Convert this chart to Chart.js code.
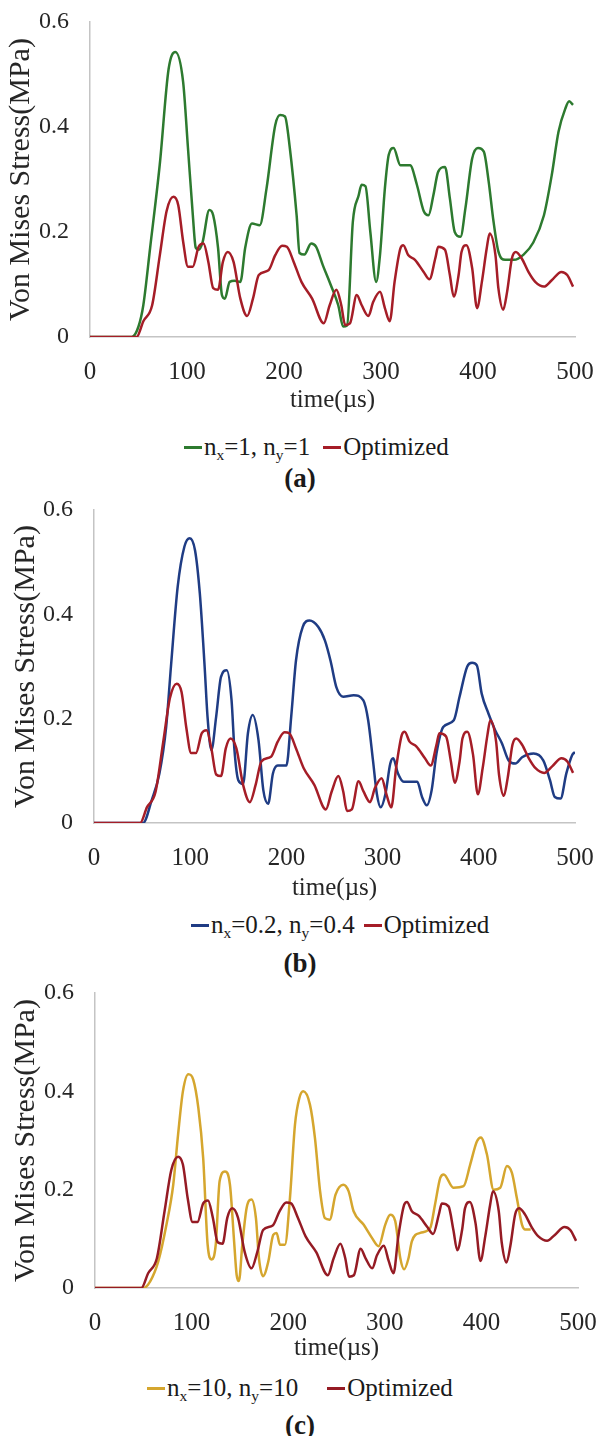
<!DOCTYPE html>
<html>
<head>
<meta charset="utf-8">
<title>Von Mises Stress</title>
<script src="https://cdn.jsdelivr.net/npm/chart.js"></script>
<style>
  body { margin: 0; background: #fff; font-family: "Liberation Serif", "Times New Roman", serif; color: #1a1a1a; }
  #page { position: relative; width: 600px; height: 1436px; overflow: hidden; }
  .panel { position: absolute; left: 0; }
  .legend { position: absolute; display: flex; align-items: center; height: 26px; font-size: 25px; white-space: nowrap; }
  .legend .item { display: flex; align-items: center; }
  .legend .swatch { display: inline-block; width: 18px; height: 3px; margin-right: 2px; }
  .legend sub { font-size: 0.62em; vertical-align: -0.3em; line-height: 0; }
  .caption { position: absolute; left: 0; width: 600px; text-align: center; font-weight: bold; font-size: 27px; line-height: 28px; }
</style>
</head>
<body>
<div id="page">
  <div class="panel" style="top:0px"><canvas id="chartA" width="600" height="420"></canvas></div>
  <div class="legend" id="legendA" style="left:184px; top:434px"></div>
  <div class="caption" style="top:464px">(a)</div>

  <div class="panel" style="top:490px"><canvas id="chartB" width="600" height="418"></canvas></div>
  <div class="legend" id="legendB" style="left:191px; top:912px"></div>
  <div class="caption" style="top:949px">(b)</div>

  <div class="panel" style="top:970px"><canvas id="chartC" width="600" height="397"></canvas></div>
  <div class="legend" id="legendC" style="left:147px; top:1375px"></div>
  <div class="caption" style="top:1411px">(c)</div>
</div>

<script>
  // time (µs) and stress (MPa)
  const optT = [0, 48, 55, 64, 72, 79, 86, 91, 96, 101, 106, 112, 117, 122, 127, 132, 137, 142, 148, 155, 162, 168, 174, 184, 191, 198, 203, 210, 218, 229, 241, 247, 254, 259, 263, 268, 275, 280, 287, 292, 299, 304, 309, 314, 320, 323, 328, 335, 344, 350, 356, 359, 366, 371, 375, 380, 383, 388, 394, 399, 404, 409, 412, 418, 421, 426, 430, 435, 439, 445, 452, 459, 468, 476, 486, 492, 498];
  const optV = [0, 0, 0.03, 0.06, 0.156, 0.24, 0.267, 0.251, 0.182, 0.134, 0.134, 0.172, 0.178, 0.143, 0.093, 0.09, 0.143, 0.162, 0.143, 0.073, 0.04, 0.073, 0.118, 0.127, 0.156, 0.174, 0.172, 0.143, 0.105, 0.073, 0.026, 0.06, 0.09, 0.061, 0.023, 0.026, 0.08, 0.061, 0.04, 0.067, 0.086, 0.055, 0.03, 0.105, 0.169, 0.175, 0.156, 0.147, 0.124, 0.11, 0.15, 0.172, 0.166, 0.118, 0.077, 0.118, 0.162, 0.175, 0.131, 0.055, 0.105, 0.169, 0.197, 0.156, 0.093, 0.052, 0.086, 0.15, 0.162, 0.15, 0.124, 0.105, 0.096, 0.108, 0.124, 0.118, 0.096];

  const greenT = [0, 43, 50, 55, 62, 72, 81, 88, 96, 101, 106, 109, 112, 116, 123, 127, 132, 136, 139, 144, 149, 155, 160, 167, 175, 182, 191, 196, 201, 206, 213, 216, 221, 228, 233, 240, 248, 256, 261, 265, 271, 277, 280, 284, 289, 295, 299, 304, 308, 313, 320, 330, 337, 344, 349, 354, 359, 366, 371, 376, 382, 387, 394, 400, 406, 411, 416, 421, 428, 437, 447, 457, 468, 476, 483, 490, 494, 498];
  const greenV = [0, 0, 0.02, 0.061, 0.17, 0.33, 0.51, 0.543, 0.486, 0.36, 0.232, 0.17, 0.166, 0.18, 0.242, 0.232, 0.17, 0.08, 0.073, 0.105, 0.107, 0.105, 0.17, 0.216, 0.213, 0.283, 0.404, 0.423, 0.42, 0.36, 0.232, 0.16, 0.157, 0.178, 0.172, 0.137, 0.1, 0.06, 0.02, 0.022, 0.22, 0.27, 0.29, 0.287, 0.2, 0.105, 0.157, 0.283, 0.347, 0.36, 0.327, 0.327, 0.29, 0.24, 0.232, 0.27, 0.315, 0.324, 0.264, 0.2, 0.191, 0.245, 0.34, 0.36, 0.353, 0.296, 0.22, 0.163, 0.147, 0.147, 0.157, 0.18, 0.232, 0.308, 0.391, 0.435, 0.449, 0.442];

  const blueT = [0, 51, 60, 68, 75, 80, 87, 94, 99.5, 105, 110, 115, 118, 122, 127, 132, 138, 143, 146, 150, 155, 160, 165, 171, 176, 181, 186, 191, 200, 205, 210, 217, 224, 233, 240, 246, 252, 259, 270, 280, 285, 290, 294, 298, 303, 308, 311, 316, 322, 336, 341, 346, 351, 356, 363, 374, 380, 388, 393, 398, 403, 410, 417, 424, 431, 438, 445, 457, 467, 474, 479, 485, 491, 497, 500];
  const blueV = [0, 0, 0.044, 0.095, 0.184, 0.30, 0.453, 0.53, 0.546, 0.523, 0.44, 0.30, 0.204, 0.14, 0.204, 0.28, 0.293, 0.235, 0.14, 0.082, 0.075, 0.172, 0.207, 0.159, 0.063, 0.037, 0.095, 0.11, 0.11, 0.204, 0.312, 0.376, 0.388, 0.376, 0.35, 0.31, 0.26, 0.242, 0.245, 0.235, 0.197, 0.12, 0.056, 0.03, 0.056, 0.114, 0.124, 0.095, 0.079, 0.079, 0.05, 0.034, 0.063, 0.133, 0.184, 0.197, 0.242, 0.30, 0.307, 0.302, 0.248, 0.21, 0.178, 0.153, 0.12, 0.114, 0.126, 0.133, 0.12, 0.082, 0.05, 0.047, 0.095, 0.13, 0.136];

  const goldT = [0, 50, 57, 65.5, 74, 81, 86, 91, 96.6, 101.7, 107, 112, 116.6, 120.7, 125, 129, 134.5, 139.7, 144, 146.6, 149, 152.5, 157, 162, 166.6, 169.7, 174, 179.4, 184.5, 188, 191.4, 196.6, 201.8, 207, 211.5, 215.6, 222.5, 227.7, 233, 238, 243, 249, 257, 262.5, 267.7, 278, 286.7, 293.6, 300.5, 305.6, 310.8, 316, 320, 324.6, 328, 336.7, 347, 352, 357.4, 361, 371, 381.5, 388.4, 395.3, 399.5, 405.7, 412.6, 419.5, 426.4, 431.6, 436.7, 442, 445.4, 451];
  const goldV = [0, 0, 0.013, 0.054, 0.129, 0.21, 0.312, 0.4, 0.435, 0.424, 0.366, 0.264, 0.088, 0.058, 0.088, 0.217, 0.237, 0.21, 0.095, 0.027, 0.014, 0.088, 0.163, 0.18, 0.142, 0.061, 0.024, 0.054, 0.108, 0.112, 0.088, 0.088, 0.183, 0.332, 0.386, 0.4, 0.373, 0.305, 0.197, 0.142, 0.139, 0.19, 0.21, 0.197, 0.156, 0.129, 0.102, 0.085, 0.129, 0.149, 0.136, 0.061, 0.038, 0.061, 0.095, 0.112, 0.122, 0.17, 0.224, 0.231, 0.204, 0.207, 0.251, 0.298, 0.306, 0.272, 0.2, 0.204, 0.248, 0.234, 0.183, 0.129, 0.119, 0.119];

  const xTicks = { min: 0, max: 500, step: 100 };
  const yTicks = { min: 0, max: 0.6, step: 0.2 };
  const xTitle = 'time(µs)';
  const yTitle = 'Von Mises Stress(MPa)';

  const optLabel = 'Optimized';
  const caseLabels = ['n<sub>x</sub>=1, n<sub>y</sub>=1', 'n<sub>x</sub>=0.2, n<sub>y</sub>=0.4', 'n<sub>x</sub>=10, n<sub>y</sub>=10'];

  const RED = '#a51d27';
  const serif = "'Liberation Serif', 'Times New Roman', serif";

  function series(t, v, color, label, order) {
    return {
      label: label,
      data: t.map((x, i) => ({ x: x, y: v[i] })),
      borderColor: color,
      borderWidth: 2.5,
      pointRadius: 0,
      fill: false,
      cubicInterpolationMode: 'monotone',
      order: order
    };
  }

  function makeChart(id, datasets, g) {
    return new Chart(document.getElementById(id), {
      type: 'line',
      data: { datasets: datasets },
      options: {
        responsive: false,
        animation: false,
        layout: { padding: { top: g.top, right: g.right, left: 0, bottom: 0 } },
        plugins: { legend: { display: false }, tooltip: { enabled: false } },
        scales: {
          x: {
            type: 'linear', min: xTicks.min, max: xTicks.max,
            ticks: { stepSize: xTicks.step, padding: 20, maxRotation: 0, color: '#262626', font: { family: serif, size: 25 } },
            grid: { color: 'rgba(0,0,0,0)', drawTicks: false },
            border: { color: '#c4c4c4', width: 1.5 },
            title: { display: true, text: xTitle, color: '#262626', font: { family: serif, size: 25 }, padding: { top: 0, bottom: g.xTitlePad } },
            // fixed box: the label overflow is already covered by layout padding
            afterFit: s => { s.height = g.xHeight; s.paddingLeft = 0; s.paddingRight = 0; }
          },
          y: {
            type: 'linear', min: yTicks.min, max: yTicks.max,
            ticks: { stepSize: yTicks.step, padding: 21, color: '#262626', font: { family: serif, size: 24 } },
            grid: { color: 'rgba(0,0,0,0)', drawTicks: false },
            border: { color: '#c4c4c4', width: 1.5 },
            title: { display: true, text: yTitle, color: '#262626', font: { family: serif, size: 30 }, padding: { top: g.yTitlePad, bottom: 0 } },
            afterFit: s => { s.width = g.yWidth; s.paddingTop = 0; s.paddingBottom = 0; }
          }
        }
      }
    });
  }

  function makeLegend(id, items, gap) {
    const el = document.getElementById(id);
    items.forEach((it, i) => {
      const d = document.createElement('span');
      d.className = 'item';
      if (i > 0) d.style.marginLeft = gap + 'px';
      d.innerHTML = '<span class="swatch" style="background:' + it.color + '"></span><span>' + it.html + '</span>';
      el.appendChild(d);
    });
  }

  makeChart('chartA', [
    series(greenT, greenV, '#2d7a2f', 'nx=1, ny=1', 1),
    series(optT, optV, RED, optLabel, 0)
  ], { top: 22, right: 25, yWidth: 90, xHeight: 83, xTitlePad: 5, yTitlePad: 3 });

  makeChart('chartB', [
    series(blueT, blueV, '#1f3c84', 'nx=0.2, ny=0.4', 1),
    series(optT, optV, RED, optLabel, 0)
  ], { top: 20, right: 25, yWidth: 94, xHeight: 85, xTitlePad: 5, yTitlePad: 8 });

  makeChart('chartC', [
    series(goldT, goldV, '#d5a62e', 'nx=10, ny=10', 1),
    series(optT, optV, '#951b24', optLabel, 0)
  ], { top: 23, right: 22, yWidth: 95, xHeight: 79, xTitlePad: 4, yTitlePad: 8 });

  makeLegend('legendA', [{ color: '#2d7a2f', html: caseLabels[0] }, { color: RED, html: optLabel }], 13);
  makeLegend('legendB', [{ color: '#1f3c84', html: caseLabels[1] }, { color: RED, html: optLabel }], 9);
  makeLegend('legendC', [{ color: '#d5a62e', html: caseLabels[2] }, { color: '#951b24', html: optLabel }], 29);
</script>
</body>
</html>
